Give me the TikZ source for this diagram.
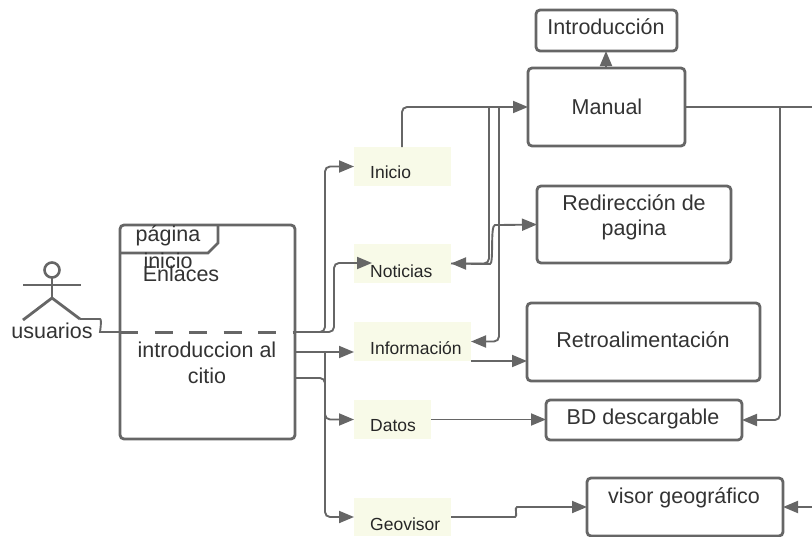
\documentclass[tikz,border=0pt]{standalone}
\usepackage{fontspec}
\setmainfont{Liberation Sans}
\usetikzlibrary{arrows.meta,calc}
\definecolor{ln}{HTML}{666666}
\definecolor{tx}{HTML}{333333}
\definecolor{yel}{HTML}{F8FAE8}
\tikzset{
  x=1pt,y=-1pt,
  boxn/.style={draw=ln,line width=2.8pt,rounded corners=4pt,fill=white,inner sep=0pt,outer sep=0pt,anchor=north west},
  note/.style={fill=yel,inner sep=0pt,outer sep=0pt,anchor=north west},
  big/.style={text=tx,font=\fontsize{21.5}{24}\selectfont,inner sep=0pt,align=center},
  small/.style={text=black!85,font=\fontsize{17.5}{20}\selectfont,inner sep=0pt,anchor=west},
  conn/.style={draw=ln,line width=1.9pt,rounded corners=5pt},
  arr/.style={conn,-{Triangle[length=15pt,width=12pt]}},
  rarr/.style={conn,{Triangle[length=15pt,width=12pt]}-},
  act/.style={draw=ln,line width=2.8pt},
}
\newcommand{\bx}[6]{\node[#1,minimum width=#4pt,minimum height=#5pt] (#2) at (#3) {#6};}
\begin{document}
\begin{tikzpicture}
\useasboundingbox (0,0) rectangle (812,536);
% main box
\bx{boxn}{main}{120,225}{175}{214}{}
\coordinate (tabA) at (120,253);
\coordinate (tabB) at (208,253);
\coordinate (tabC) at (218,243);
\coordinate (tabD) at (218,225);
\draw[act] (tabA) -- (tabB) -- (tabC) -- (tabD);
% boxes
\bx{boxn}{intro}{536,10}{141}{41}{}
\bx{boxn}{manual}{528,68}{157}{78}{}
\bx{boxn}{redir}{537,186}{194}{77}{}
\bx{boxn}{retro}{527,303}{233}{78}{}
\bx{boxn}{bd}{546,400}{196}{40}{}
\bx{boxn}{visor}{587,478}{196}{58}{}
% notes
\bx{note}{inicio}{354,147}{97}{39}{}
\bx{note}{noticias}{354,244}{97}{39}{}
\bx{note}{info}{354,322}{117}{39}{}
\bx{note}{datos}{354,400}{77}{39}{}
\bx{note}{geo}{354,498}{97}{38}{}
% actor
\node[draw=ln,line width=2.6pt,circle,minimum size=15pt,inner sep=0pt,outer sep=0pt] (head) at (52,270) {};
\coordinate (armL) at (23,285);
\coordinate (armR) at (81,285);
\coordinate (hip) at (52,298);
\coordinate (legL) at (23,320);
\coordinate (legR) at (80,319);
\draw[act] (armL) -- (armR);
\draw[act] (head.south) -- (hip);
\draw[act] (legL) -- (hip) -- (legR);
% junctions
\coordinate (bus) at (295,332);
\coordinate (mA) at (120,332);
\coordinate (mB) at (295,352);
\coordinate (mC) at (295,378);
\coordinate (jog) at (105,332);
\coordinate (vA) at (325,352);
\coordinate (vB) at (325,378);
\coordinate (infoIn) at (354,352);
\coordinate (tipN) at (372,263);
\coordinate (sI) at (402,147);
\coordinate (mW) at (manual.west);
\coordinate (busA) at (489,107);
\coordinate (busB) at (499,107);
\coordinate (jR) at (780,107);
\coordinate (edgeT) at (812,107);
\coordinate (edgeB) at (812,507);
\coordinate (mV) at (606,68);
% connectors
\draw[conn] (legR) -- (95,319) .. controls (102,319) and (100,332) .. (jog) -- (mA);
\draw[act,line width=3pt,dash pattern=on 18pt off 16.5pt,dash phase=0pt] (mA) -- (bus);
\draw[arr] (bus) -- (325,332) |- (inicio.west);
\draw[arr] (bus) -- (334,332) |- (tipN);
\draw[arr] (mB) -- (infoIn);
\draw[arr] (vA) |- (datos.west);
\draw[arr] (mC) -- (vB) |- (geo.west);
\draw[arr] (sI) |- (mW);
\draw[rarr] (noticias.east) -| (busA);
\draw[rarr] (info.east) -| (busB);
\draw[conn] (busA) -- (510,107);
\draw[conn] (busB) -- (510,107);
\draw[arr] (noticias.east) -- (485,264) .. controls (494,264) and (490,225) .. (500,225) -- (redir.west);
\draw[arr] (info.south east) -- (info.south east -| retro.west);
\draw[arr] (datos.east) -- (datos.east -| bd.west);
\draw[arr] (geo.east) -- (510,517) .. controls (518,517) and (514,507) .. (522,507) -- (visor.west);
\draw[arr] (mV) -- (intro.south -| mV);
\draw[conn] (manual.east) -- (manual.east -| edgeT);
\draw[arr] (jR) |- (bd.east);
\draw[arr] (edgeB) -- (visor.east);
% texts
\node[big] (t1) at (606,27) {Introducción};
\node[big] (t2) at (607,107) {Manual};
\node[big] (t3) at (634,217) {Redirección de\\[1pt]pagina};
\node[big] (t4) at (643,340) {Retroalimentación};
\node[big] (t5) at (643,419) {BD descargable};
\node[big] (t6) at (684,498) {visor geográfico};
\node[big] (t7) at (168,236) {página};
\node[big] (t8) at (168,261) {inicio};
\node[big] (t9) at (181,274) {Enlaces};
\node[big] (t10) at (207,363) {introduccion al\\[2pt]citio};
\node[big] (t11) at (52,331) {usuarios};
\node[small] (s1) at (370,172) {Inicio};
\node[small] (s2) at (370,271) {Noticias};
\node[small] (s3) at (370,348) {Información};
\node[small] (s4) at (370,426) {Datos};
\node[small] (s5) at (370,524) {Geovisor};
\end{tikzpicture}
\end{document}
